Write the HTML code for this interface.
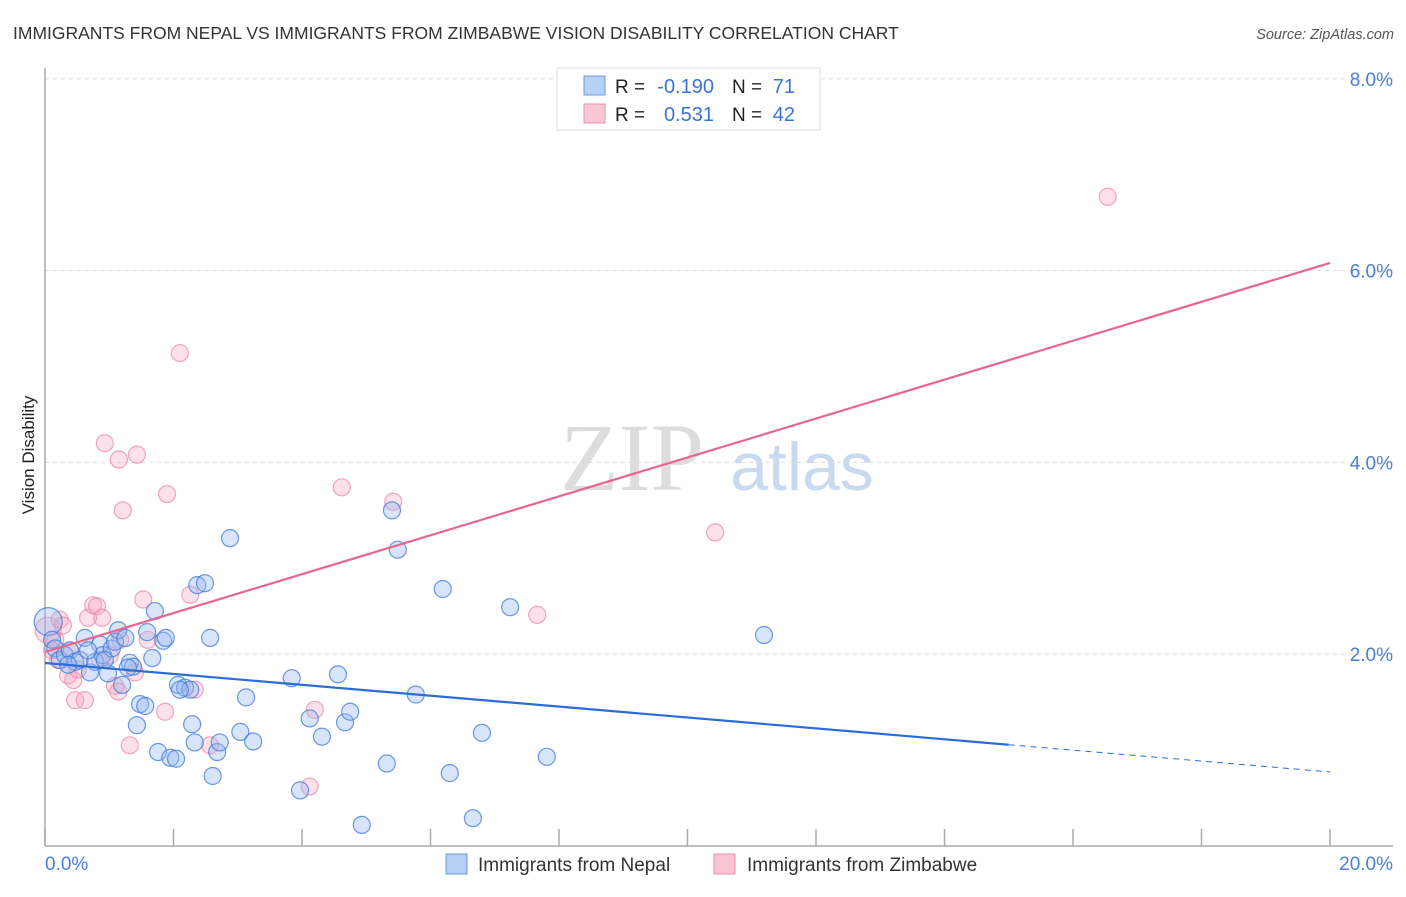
<!DOCTYPE html>
<html><head><meta charset="utf-8">
<style>
body{margin:0;background:#fff;font-family:"Liberation Sans",sans-serif;}
svg text{font-family:"Liberation Sans",sans-serif;}
</style></head>
<body>
<svg id="chart" width="1406" height="892" viewBox="0 0 1406 892" xmlns="http://www.w3.org/2000/svg">
<text x="13" y="39" font-size="17.5" fill="#333">IMMIGRANTS FROM NEPAL VS IMMIGRANTS FROM ZIMBABWE VISION DISABILITY CORRELATION CHART</text>
<text x="1394" y="39" font-size="14.5" fill="#555" text-anchor="end" font-style="italic">Source: ZipAtlas.com</text>
<text transform="translate(34,455) rotate(-90)" font-size="17" fill="#222" text-anchor="middle">Vision Disability</text>
<g>
<text x="632" y="490" font-size="96" fill="#ddd" text-anchor="middle" font-family="Liberation Serif" style="font-family:'Liberation Serif',serif">ZIP</text>
<text x="802" y="490" font-size="68" fill="#c9d9f0" text-anchor="middle">atlas</text>
</g>
<g id="grid"></g>
<g id="axes"></g>
<g id="pts"></g>
<g id="lines"></g>
<g>
<rect x="557" y="68" width="263" height="62" fill="#fff" stroke="#ddd"/>
<rect x="584" y="76" width="21" height="19" fill="#b7d0f5" stroke="#6b9ae0"/>
<rect x="584" y="104" width="21" height="19" fill="#f9c6d5" stroke="#ec8eaa"/>
<text x="615" y="93" font-size="19" fill="#222">R =</text>
<text x="714" y="93" font-size="20" fill="#3a73d8" text-anchor="end">-0.190</text>
<text x="732" y="93" font-size="19" fill="#222">N =</text>
<text x="795" y="93" font-size="20" fill="#3a73d8" text-anchor="end">71</text>
<text x="615" y="121" font-size="19" fill="#222">R =</text>
<text x="714" y="121" font-size="20" fill="#3a73d8" text-anchor="end">0.531</text>
<text x="732" y="121" font-size="19" fill="#222">N =</text>
<text x="795" y="121" font-size="20" fill="#3a73d8" text-anchor="end">42</text>
</g>
<g>
<rect x="446" y="854" width="21" height="20" fill="#b7d0f5" stroke="#6b9ae0"/>
<text x="478" y="871" font-size="19" fill="#333">Immigrants from Nepal</text>
<rect x="714" y="854" width="21" height="20" fill="#f9c6d5" stroke="#ec8eaa"/>
<text x="747" y="871" font-size="19" fill="#333">Immigrants from Zimbabwe</text>
</g>
</svg>
<script>
const nepalX=[0.05,0.11,0.16,0.23,0.31,0.39,0.47,0.54,0.62,0.70,0.78,0.86,0.90,0.98,1.04,1.09,1.14,1.20,1.25,1.32,1.37,1.43,1.48,1.56,1.59,1.67,1.71,1.76,1.84,1.88,1.95,2.04,2.07,2.18,2.26,2.29,2.33,2.37,2.49,2.57,2.61,2.68,2.72,2.88,3.04,3.13,3.24,3.84,3.97,4.12,4.31,4.56,4.67,4.75,4.93,5.32,5.40,5.49,5.77,6.19,6.30,6.66,6.80,7.24,7.81,11.19,0.67,0.36,0.93,1.29,2.10];
const nepalY=[2.34,2.15,2.06,1.94,1.99,2.04,1.92,1.94,2.17,1.81,1.92,2.10,1.99,1.80,2.06,2.13,2.25,1.68,2.17,1.91,1.87,1.26,1.48,1.46,2.23,1.96,2.45,0.98,2.14,2.17,0.92,0.91,1.68,1.65,1.63,1.27,1.08,2.72,2.74,2.17,0.73,0.98,1.08,3.21,1.19,1.55,1.09,1.75,0.58,1.33,1.14,1.79,1.29,1.40,0.22,0.86,3.50,3.09,1.58,2.68,0.76,0.29,1.18,2.49,0.93,2.20,2.04,1.89,1.94,1.86,1.63];
const zimX=[0.05,0.11,0.16,0.23,0.28,0.36,0.44,0.47,0.51,0.62,0.67,0.75,0.81,0.89,0.93,1.01,1.09,1.14,1.15,1.21,1.32,1.40,1.43,1.53,1.60,1.87,1.90,2.10,2.26,2.33,2.57,4.12,4.20,4.62,5.42,7.66,10.43,16.54,0.20,0.39,0.86,1.17];
const zimY=[2.25,2.04,2.15,2.36,2.30,1.78,1.73,1.52,1.84,1.52,2.38,2.51,2.50,2.38,4.20,1.99,1.67,1.61,4.03,3.50,1.05,1.81,4.08,2.57,2.15,1.40,3.67,5.14,2.62,1.63,1.05,0.62,1.42,3.74,3.59,2.41,3.27,6.77,1.94,2.04,1.94,2.15];
const nepalTrend=[1.908,0.772];  // y at x=0 and x=20
const nepalSolidEnd=15.0;
const zimTrend=[2.023,6.08];
const yTicks=[2,4,6,8];
const yTickLabels=["2.0%","4.0%","6.0%","8.0%"];
const xTicks=[0,2,4,6,8,10,12,14,16,18,20];

const X=v=>45+v*64.25;
const Y=v=>846-v*95.9;
const NS="http://www.w3.org/2000/svg";
function mk(parent,tag,attrs){const e=document.createElementNS(NS,tag);for(const k in attrs)e.setAttribute(k,attrs[k]);document.getElementById(parent).appendChild(e);return e;}

yTicks.forEach((t,i)=>{
  const g=mk('grid','line',{x1:45,x2:1393,y1:Y(t),y2:Y(t),stroke:'#ddd','stroke-dasharray':'4,4'});
  
  
  const tx=mk('axes','text',{x:1393,y:Y(t)+7,'font-size':19,fill:'#4a7fd6','text-anchor':'end'});
  tx.textContent=yTickLabels[i];
  
  
});
const ya=mk('axes','line',{x1:45,x2:45,y1:68,y2:846,stroke:'#aaa','stroke-width':1.5});


const xa=mk('axes','line',{x1:45,x2:1393,y1:846,y2:846,stroke:'#aaa','stroke-width':1.5});


xTicks.forEach(t=>{
  const l=mk('axes','line',{x1:X(t),x2:X(t),y1:829,y2:846,stroke:'#aaa','stroke-width':1.5});
  
  
});
const xl0=mk('axes','text',{x:45,y:870,'font-size':19,fill:'#4a7fd6'});xl0.textContent='0.0%';


const xl1=mk('axes','text',{x:1393,y:870,'font-size':19,fill:'#4a7fd6','text-anchor':'end'});xl1.textContent='20.0%';



zimX.forEach((x,i)=>{
  const c=mk('pts','circle',{cx:X(x),cy:Y(zimY[i]),r:i===0?13:8.5,fill:'rgba(246,170,195,0.35)',stroke:'rgba(236,130,165,0.7)','stroke-width':1.2});
  
  
});
nepalX.forEach((x,i)=>{
  const c=mk('pts','circle',{cx:X(x),cy:Y(nepalY[i]),r:i===0?14:8.5,fill:'rgba(150,185,240,0.38)',stroke:'rgba(60,120,220,0.75)','stroke-width':1.2});
  
  
});
const nAt=x=>nepalTrend[0]+(nepalTrend[1]-nepalTrend[0])*x/20;
const l1=mk('lines','line',{x1:X(0),y1:Y(nepalTrend[0]),x2:X(nepalSolidEnd),y2:Y(nAt(nepalSolidEnd)),stroke:'#2a6dd6','stroke-width':2.2});


const l2=mk('lines','line',{x1:X(nepalSolidEnd),y1:Y(nAt(nepalSolidEnd)),x2:X(20),y2:Y(nepalTrend[1]),stroke:'#2a6dd6','stroke-width':1,'stroke-dasharray':'6,5'});


const l3=mk('lines','line',{x1:X(0),y1:Y(zimTrend[0]),x2:X(20),y2:Y(zimTrend[1]),stroke:'#e8658f','stroke-width':2.2});


</script>
</body></html>
